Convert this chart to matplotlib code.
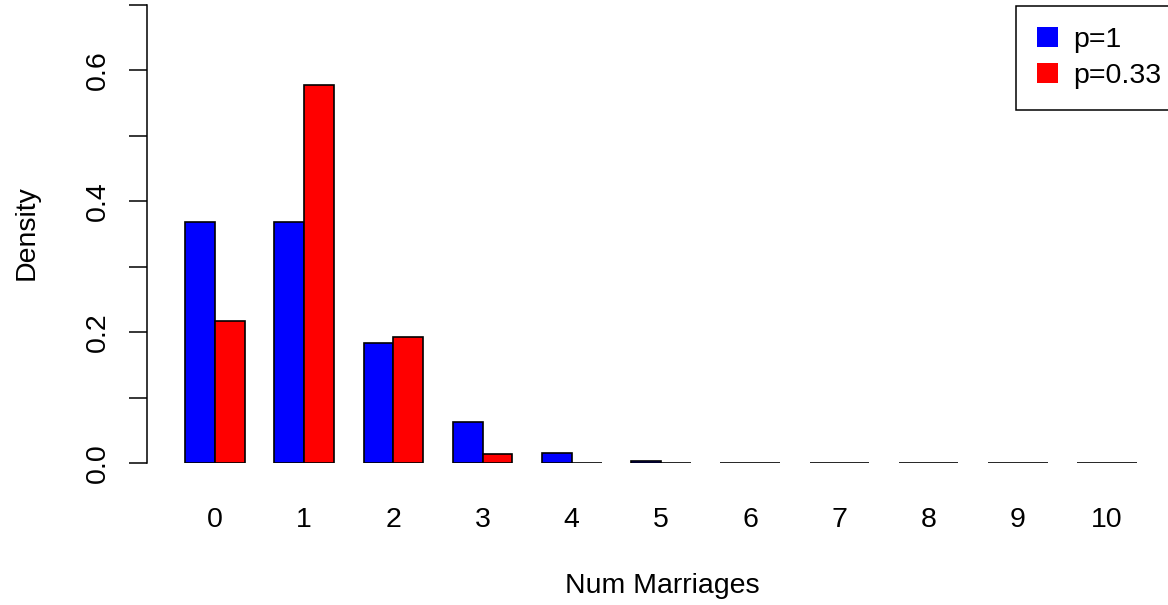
import matplotlib
matplotlib.use("Agg")
import matplotlib.pyplot as plt
import numpy as np
from matplotlib.patches import Patch

num_marriages = ["0", "1", "2", "3", "4", "5", "6", "7", "8", "9", "10"]
density_p1 = [0.368, 0.368, 0.184, 0.062, 0.016, 0.003, 0.0006, 0.0001, 0.0, 0.0, 0.0]
density_p033 = [0.217, 0.578, 0.192, 0.013, 0.0006, 0.0, 0.0, 0.0, 0.0, 0.0, 0.0]
series_labels = ["p=1", "p=0.33"]

plt.rcParams["font.family"] = ["Liberation Sans", "DejaVu Sans"]
fs = 20.5
W, H = 1168, 605

fig = plt.figure(figsize=(W / 100, H / 100), dpi=100)
# plot region in pixels (R style barplot, right part cropped)
left_px, right_px, top_px, bottom_px = 147, 1175, 5, 463
ax = fig.add_axes([left_px / W, 1 - bottom_px / H,
                   (right_px - left_px) / W, (bottom_px - top_px) / H])

groups = np.arange(len(num_marriages))
blue_left = 3 * groups + 1
red_left = 3 * groups + 2
ax.bar(blue_left, density_p1, width=1, align="edge", color="#0000ff",
       edgecolor="black", linewidth=1.2)
ax.bar(red_left, density_p033, width=1, align="edge", color="#ff0000",
       edgecolor="black", linewidth=1.2)

ax.set_xlim(1 - 1.28, 33 + 1.28)
ax.set_ylim(0, 0.7)

for s in ["top", "right", "bottom"]:
    ax.spines[s].set_visible(False)
ax.spines["left"].set_linewidth(1.1)
ax.spines["left"].set_bounds(0, 0.7)

ax.set_xticks(3 * groups + 2)
ax.set_xticklabels(num_marriages, fontsize=fs)
ax.tick_params(axis="x", length=0, pad=32)

yt = np.round(np.arange(0, 0.71, 0.1), 1)
ax.set_yticks(yt)
ax.set_yticklabels([f"{v:.1f}" if i % 2 == 0 else "" for i, v in enumerate(yt)],
                   fontsize=fs, rotation=90, va="center")
ax.tick_params(axis="y", length=13, width=1.1, pad=13)

fig.text(662 / W, 1 - 586 / H, "Num Marriages", fontsize=fs, ha="center", va="center")
fig.text(27 / W, 1 - 233 / H, "Density", fontsize=fs, rotation=90, ha="center", va="center")

handles = [Patch(facecolor="#0000ff", edgecolor="none"),
           Patch(facecolor="#ff0000", edgecolor="none")]
leg = ax.legend(handles, series_labels, loc="upper left",
                bbox_to_anchor=(1016 / W, 1 - 6 / H), bbox_transform=fig.transFigure,
                borderaxespad=0, fontsize=fs, handlelength=0.74, handleheight=0.74,
                handletextpad=0.55, borderpad=0.72, labelspacing=0.35,
                fancybox=False, framealpha=1)
leg.get_frame().set_edgecolor("black")
leg.get_frame().set_linewidth(1.1)

fig.savefig("out.png", dpi=100)
